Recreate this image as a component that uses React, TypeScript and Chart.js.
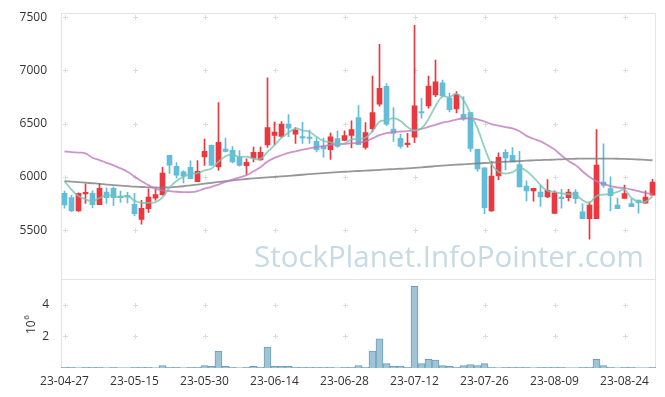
import React, { useEffect, useRef } from 'react';
import { Chart, registerables } from 'chart.js';

Chart.register(...registerables);

const dates = [
  '23-04-27', '23-04-28', '23-05-02', '23-05-03', '23-05-04', '23-05-08', '23-05-09', '23-05-10', '23-05-11', '23-05-12',
  '23-05-15', '23-05-16', '23-05-17', '23-05-18', '23-05-19', '23-05-22', '23-05-23', '23-05-24', '23-05-25', '23-05-26',
  '23-05-30', '23-05-31', '23-06-01', '23-06-02', '23-06-05', '23-06-07', '23-06-08', '23-06-09', '23-06-12', '23-06-13',
  '23-06-14', '23-06-15', '23-06-16', '23-06-19', '23-06-20', '23-06-21', '23-06-22', '23-06-23', '23-06-26', '23-06-27',
  '23-06-28', '23-06-29', '23-06-30', '23-07-03', '23-07-04', '23-07-05', '23-07-06', '23-07-07', '23-07-10', '23-07-11',
  '23-07-12', '23-07-13', '23-07-14', '23-07-17', '23-07-18', '23-07-19', '23-07-20', '23-07-21', '23-07-24', '23-07-25',
  '23-07-26', '23-07-27', '23-07-28', '23-07-31', '23-08-01', '23-08-02', '23-08-03', '23-08-04', '23-08-07', '23-08-08',
  '23-08-09', '23-08-10', '23-08-11', '23-08-14', '23-08-16', '23-08-17', '23-08-18', '23-08-21', '23-08-22', '23-08-23',
  '23-08-24', '23-08-25', '23-08-28', '23-08-29', '23-08-30',
];

const opens = [
  5845, 5805, 5680, 5840, 5845, 5740, 5857, 5892, 5820, 5820,
  5743, 5600, 5702, 5800, 5833, 6203, 6100, 6047, 6090, 5954,
  6187, 6296, 6094, 6262, 6250, 6190, 6105, 6175, 6158, 6299,
  6389, 6380, 6495, 6402, 6371, 6371, 6333, 6287, 6256, 6359,
  6343, 6389, 6557, 6277, 6452, 6682, 6850, 6448, 6362, 6302,
  6372, 6607, 6667, 6769, 6884, 6738, 6637, 6588, 6604, 6258,
  6086, 5680, 6010, 6231, 6203, 6116, 5913, 5867, 5858, 5812,
  5657, 5811, 5804, 5857, 5671, 5608, 5608, 5951, 5890, 5736,
  5797, 5750, 5783, 5752, 5828,
];
const highs = [
  5867, 5830, 5850, 5935, 5870, 5940, 5897, 5905, 5867, 5855,
  5845, 5780, 5888, 5883, 6090, 6203, 6135, 6060, 6150, 6153,
  6355, 6300, 6697, 6365, 6285, 6247, 6170, 6280, 6280, 6931,
  6514, 6520, 6585, 6464, 6511, 6440, 6365, 6365, 6411, 6433,
  6433, 6527, 6670, 6510, 6947, 7245, 6875, 6651, 6400, 6408,
  7422, 6738, 6947, 7096, 6910, 6785, 6800, 6755, 6604, 6260,
  6086, 6147, 6225, 6256, 6275, 6240, 5963, 5892, 5920, 5975,
  5870, 5883, 5882, 5880, 5748, 5764, 6443, 6310, 6000, 5800,
  5922, 5790, 5783, 5870, 5976,
];
const lows = [
  5705, 5675, 5675, 5750, 5708, 5740, 5750, 5730, 5760, 5755,
  5633, 5555, 5665, 5780, 5827, 6033, 5987, 5944, 5982, 5954,
  6107, 6105, 6060, 6235, 6130, 6100, 6023, 6140, 6156, 6277,
  6303, 6370, 6377, 6315, 6315, 6315, 6235, 6184, 6163, 6277,
  6340, 6271, 6303, 6260, 6427, 6665, 6480, 6333, 6270, 6280,
  6320, 6551, 6644, 6753, 6750, 6610, 6600, 6530, 6240, 6050,
  5655, 5675, 5973, 6065, 6140, 5905, 5773, 5772, 5722, 5804,
  5657, 5706, 5773, 5750, 5608, 5416, 5608, 5900, 5680, 5702,
  5797, 5720, 5658, 5752, 5828,
];
const closes = [
  5737, 5680, 5845, 5855, 5740, 5892, 5804, 5805, 5805, 5810,
  5655, 5705, 5810, 5833, 6035, 6110, 6016, 6007, 5982, 6053,
  6240, 6110, 6324, 6240, 6140, 6107, 6136, 6230, 6230, 6464,
  6420, 6495, 6458, 6440, 6365, 6360, 6256, 6262, 6377, 6287,
  6387, 6443, 6303, 6415, 6604, 6831, 6495, 6411, 6285, 6318,
  6668, 6600, 6853, 6893, 6760, 6632, 6772, 6545, 6266, 6075,
  5711, 6007, 6184, 6178, 6140, 5905, 5867, 5892, 5811, 5874,
  5850, 5795, 5857, 5795, 5608, 5736, 6110, 5920, 5823, 5702,
  5842, 5720, 5758, 5811, 5951,
];

// volume in millions of shares
const volumes = [
  0.05, 0.05, 0.005, 0.05, 0.05, 0.05, 0.005, 0.05, 0.005, 0.005,
  0.05, 0.05, 0.05, 0.005, 0.15, 0.05, 0.05, 0.005, 0.05, 0.05,
  0.15, 0.1, 1.07, 0.1, 0.05, 0.005, 0.05, 0.1, 0.05, 1.32,
  0.1, 0.1, 0.1, 0.05, 0.05, 0.05, 0.05, 0.05, 0.05, 0.005,
  0.05, 0.05, 0.15, 0.05, 1.07, 1.84, 0.28, 0.12, 0.12, 0.05,
  5.15, 0.28, 0.54, 0.5, 0.15, 0.1, 0.05, 0.15, 0.22, 0.15,
  0.28, 0.05, 0.005, 0.05, 0.05, 0.05, 0.05, 0.005, 0.05, 0.05,
  0.05, 0.05, 0.005, 0.005, 0.05, 0.05, 0.54, 0.15, 0.05, 0.005,
  0.05, 0.05, 0.005, 0.005, 0.05,
];

const ma5 = [
  5960, 5880, 5820, 5790, 5771, 5802, 5827, 5819, 5809, 5823,
  5776, 5756, 5757, 5763, 5808, 5899, 5961, 6000, 6030, 6034,
  6060, 6078, 6142, 6193, 6211, 6184, 6190, 6171, 6169, 6234,
  6297, 6368, 6414, 6455, 6436, 6424, 6376, 6337, 6324, 6308,
  6314, 6351, 6359, 6367, 6430, 6519, 6530, 6551, 6525, 6468,
  6435, 6456, 6544, 6666, 6755, 6747, 6782, 6720, 6594, 6457,
  6274, 6120, 6048, 6031, 6044, 6083, 6055, 5996, 5923, 5869,
  5858, 5844, 5837, 5834, 5781, 5758, 5821, 5834, 5839, 5858,
  5879, 5801, 5768, 5767, 5816,
];
const ma20 = [
  6240, 6232, 6228, 6220, 6180, 6158, 6132, 6108, 6080, 6048,
  6002, 5958, 5922, 5890, 5873, 5866, 5860, 5857, 5856, 5866,
  5890, 5906, 5928, 5953, 5975, 5996, 6016, 6052, 6090, 6145,
  6178, 6203, 6225, 6240, 6256, 6268, 6280, 6290, 6300, 6306,
  6310, 6316, 6320, 6335, 6362, 6392, 6410, 6420, 6426, 6430,
  6438, 6450, 6470, 6488, 6510, 6522, 6538, 6548, 6548, 6540,
  6520, 6495, 6482, 6468, 6455, 6428, 6385, 6358, 6333, 6298,
  6258, 6200, 6150, 6110, 6053, 5998, 5960, 5935, 5913, 5900,
  5895, 5880, 5865, 5850, 5836,
];
const ma60 = [
  5960, 5955, 5950, 5945, 5940, 5935, 5928, 5922, 5918, 5913,
  5908, 5905, 5902, 5900, 5900, 5902, 5906, 5912, 5920, 5928,
  5936, 5944, 5952, 5960, 5968, 5974, 5980, 5985, 5990, 5995,
  6000, 6005, 6010, 6015, 6020, 6025, 6030, 6035, 6040, 6044,
  6048, 6052, 6055, 6058, 6062, 6066, 6070, 6073, 6076, 6080,
  6085, 6090, 6095, 6100, 6105, 6110, 6114, 6118, 6122, 6126,
  6130, 6134, 6138, 6142, 6145, 6148, 6152, 6155, 6158, 6160,
  6162, 6165, 6168, 6170, 6172, 6172, 6172, 6172, 6171, 6170,
  6168, 6166, 6163, 6160, 6156,
];

const priceTicks = [5500, 6000, 6500, 7000, 7500];
const volumeTicks = [2, 4];
const xTickEvery = 10;
const watermark = 'StockPlanet.InfoPointer.com';

const UP = '#ea383e';
const DOWN = '#64bdd8';
const FONT = '"Open Sans", "Noto Sans", sans-serif';

export default function App() {
  const ref = useRef<HTMLCanvasElement>(null);

  useEffect(() => {
    if (!ref.current) return;
    const colors = closes.map((c, i) => (c >= opens[i] ? UP : DOWN));

    const decor = {
      id: 'decor',
      beforeDatasetsDraw(chart: any) {
        const ctx = chart.ctx as CanvasRenderingContext2D;
        const xs = chart.scales.x;
        const y = chart.scales.y;
        const yv = chart.scales.yv;
        const left = chart.chartArea.left;
        const right = chart.chartArea.right;
        ctx.save();

        // watermark
        ctx.font = `30px ${FONT}`;
        const w0 = ctx.measureText(watermark).width;
        const size = (30 * 390) / w0;
        ctx.font = `${size}px ${FONT}`;
        ctx.fillStyle = '#c6dae5';
        ctx.textBaseline = 'alphabetic';
        ctx.textAlign = 'left';
        ctx.fillText(watermark, 254, 267);

        // frames
        ctx.strokeStyle = '#e3e3e3';
        ctx.lineWidth = 1;
        const yTop = Math.round(y.top);
        const yMid = Math.round(y.bottom);
        const yBot = Math.round(yv.bottom);
        ctx.beginPath();
        ctx.moveTo(left + 0.5, yTop + 0.5);
        ctx.lineTo(right - 0.5, yTop + 0.5);
        ctx.lineTo(right - 0.5, yBot - 0.5);
        ctx.lineTo(left + 0.5, yBot - 0.5);
        ctx.closePath();
        ctx.moveTo(left, yMid + 0.5);
        ctx.lineTo(right, yMid + 0.5);
        ctx.stroke();

        // grid crosses
        ctx.strokeStyle = '#dcdcdc';
        const xPix: number[] = [];
        for (let i = 0; i < dates.length; i += xTickEvery) xPix.push(Math.round(xs.getPixelForValue(i)));
        const cross = (px: number, py: number) => {
          ctx.beginPath();
          ctx.moveTo(px - 2, py + 0.5);
          ctx.lineTo(px + 3, py + 0.5);
          ctx.moveTo(px + 0.5, py - 2);
          ctx.lineTo(px + 0.5, py + 3);
          ctx.stroke();
        };
        for (const px of xPix) {
          for (const v of priceTicks) cross(px, Math.round(y.getPixelForValue(v)));
          for (const v of volumeTicks) cross(px, Math.round(yv.getPixelForValue(v)));
        }

        // volume axis exponent label
        ctx.fillStyle = '#333';
        ctx.translate(35, 334);
        ctx.rotate(-Math.PI / 2);
        ctx.font = `12px ${FONT}`;
        ctx.fillText('10', 0, 0);
        const w = ctx.measureText('10').width;
        ctx.font = `8px ${FONT}`;
        ctx.fillText('6', w + 0.5, -6);
        ctx.restore();
      },
    };

    const chart = new Chart(ref.current, {
      type: 'bar',
      data: {
        labels: dates,
        datasets: [
          {
            type: 'line',
            data: ma5,
            yAxisID: 'y',
            borderColor: 'rgba(118,195,180,0.8)',
            borderWidth: 1.8,
            pointRadius: 0,
            tension: 0.4,
            order: 0,
          },
          {
            type: 'line',
            data: ma20,
            yAxisID: 'y',
            borderColor: 'rgba(192,120,190,0.8)',
            borderWidth: 1.8,
            pointRadius: 0,
            tension: 0.4,
            order: 0,
          },
          {
            type: 'line',
            data: ma60,
            yAxisID: 'y',
            borderColor: 'rgba(125,125,125,0.8)',
            borderWidth: 1.8,
            pointRadius: 0,
            tension: 0.4,
            order: 0,
          },
          {
            type: 'bar',
            data: dates.map((_, i) => [opens[i], closes[i]]) as any,
            yAxisID: 'y',
            backgroundColor: colors,
            barThickness: 5,
            minBarLength: 1.5,
            grouped: false,
            order: 1,
          },
          {
            type: 'bar',
            data: dates.map((_, i) => [lows[i], highs[i]]) as any,
            yAxisID: 'y',
            backgroundColor: colors,
            barThickness: 1,
            grouped: false,
            order: 2,
          },
          {
            type: 'bar',
            data: volumes,
            yAxisID: 'yv',
            backgroundColor: '#9ec4d6',
            borderColor: '#6f9fb7',
            borderWidth: 1,
            barPercentage: 1,
            categoryPercentage: 1,
            grouped: false,
            order: 3,
          },
        ],
      },
      options: {
        responsive: false,
        animation: false,
        events: [],
        layout: { padding: { top: 11, right: 9, left: 0, bottom: 0 } },
        plugins: { legend: { display: false }, tooltip: { enabled: false } },
        scales: {
          x: {
            type: 'category',
            offset: true,
            grid: { display: false },
            border: { display: false },
            ticks: {
              autoSkip: false,
              maxRotation: 0,
              minRotation: 0,
              padding: -2,
              color: '#333',
              font: { family: FONT, size: 12 },
              callback: (_v: any, i: number) => (i % xTickEvery === 0 ? dates[i] : ''),
            },
            afterFit: (s: any) => {
              s.height = 29;
            },
          },
          y: {
            type: 'linear',
            position: 'left',
            stack: 'panels',
            stackWeight: 3,
            weight: 2,
            min: 5038,
            max: 7537,
            grid: { display: false },
            border: { display: false },
            afterBuildTicks: (s: any) => {
              s.ticks = priceTicks.map((v) => ({ value: v }));
            },
            ticks: {
              padding: 6,
              color: '#333',
              font: { family: FONT, size: 12 },
              callback: (v: any) => String(v),
            },
            afterFit: (s: any) => {
              s.width = 61;
            },
          },
          yv: {
            type: 'linear',
            position: 'left',
            stack: 'panels',
            stackWeight: 1,
            weight: 1,
            min: 0,
            max: 5.6,
            grid: { display: false },
            border: { display: false },
            afterBuildTicks: (s: any) => {
              s.ticks = volumeTicks.map((v) => ({ value: v }));
            },
            ticks: {
              padding: 4,
              color: '#333',
              font: { family: FONT, size: 12 },
              callback: (v: any) => String(v),
            },
            afterFit: (s: any) => {
              s.width = 61;
            },
          },
        },
      },
      plugins: [decor],
    } as any);

    return () => chart.destroy();
  }, []);

  return (
    <div style={{ position: 'absolute', left: 0, top: 0, width: 665, height: 397, background: '#fff' }}>
      <canvas ref={ref} width={665} height={397} />
    </div>
  );
}
